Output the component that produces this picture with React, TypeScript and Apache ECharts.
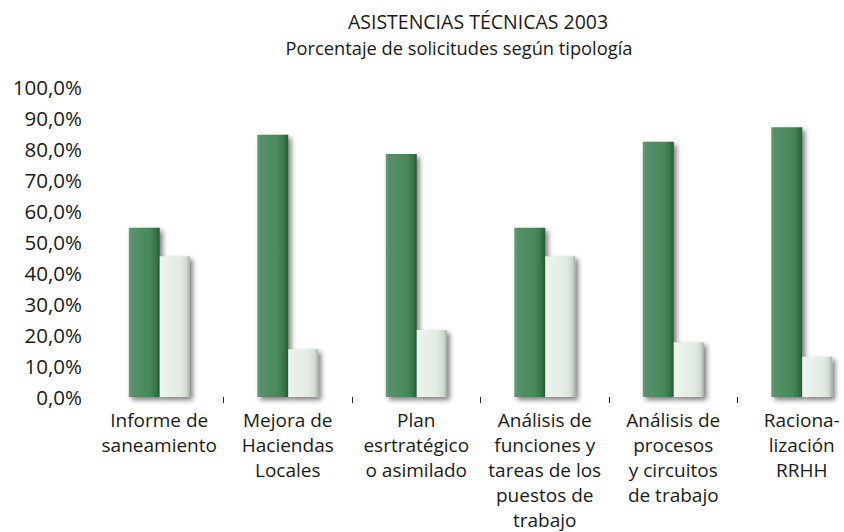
import React, { useEffect, useRef } from "react";
import * as echarts from "echarts";

const titleLine1 = "ASISTENCIAS TÉCNICAS 2003";
const titleLine2 = "Porcentaje de solicitudes según tipología";

const categories = [
  "Informe de\nsaneamiento",
  "Mejora de\nHaciendas\nLocales",
  "Plan\nesrtratégico\no asimilado",
  "Análisis de\nfunciones y\ntareas de los\npuestos de\ntrabajo",
  "Análisis de\nprocesos\ny circuitos\nde trabajo",
  "Raciona-\nlización\nRRHH",
];

const greenValues = [54.6, 84.6, 78.4, 54.6, 82.3, 87.0];
const lightValues = [45.4, 15.4, 21.6, 45.4, 17.7, 13.0];

const FONT = "'Open Sans', 'Noto Sans', sans-serif";

export default function App() {
  const ref = useRef<HTMLDivElement>(null);
  useEffect(() => {
    if (!ref.current) return;
    const chart = echarts.init(ref.current, undefined, { renderer: "svg" });
    const green = new echarts.graphic.LinearGradient(0, 0, 1, 0, [
      { offset: 0, color: "#6f9f7c" },
      { offset: 0.1, color: "#55906a" },
      { offset: 0.65, color: "#4b895b" },
      { offset: 0.85, color: "#3a784a" },
      { offset: 1, color: "#255c36" },
    ]);
    const light = new echarts.graphic.LinearGradient(0, 0, 1, 0, [
      { offset: 0, color: "#eef4ee" },
      { offset: 0.7, color: "#e2ebe2" },
      { offset: 0.9, color: "#cdd8ce" },
      { offset: 1, color: "#9faea1" },
    ]);
    const shadow = {
      shadowColor: "rgba(0,0,0,0.5)",
      shadowBlur: 5,
      shadowOffsetX: 3,
      shadowOffsetY: 3,
    };
    chart.setOption({
      animation: false,
      backgroundColor: "#ffffff",
      textStyle: { fontFamily: FONT },
      graphic: [
        {
          type: "text",
          x: 478,
          y: 21,
          style: {
            text: titleLine1,
            textAlign: "center",
            textVerticalAlign: "middle",
            fontSize: 19.5,
            fontFamily: FONT,
            fill: "#1a1a1a",
          },
        },
        {
          type: "text",
          x: 459,
          y: 47,
          style: {
            text: titleLine2,
            textAlign: "center",
            textVerticalAlign: "middle",
            fontSize: 18.3,
            fontFamily: FONT,
            fill: "#1a1a1a",
          },
        },
      ],
      grid: {
        left: 95,
        width: 771,
        top: 87,
        bottom: 135,
        containLabel: false,
        outerBoundsMode: "none",
      },
      xAxis: {
        type: "category",
        data: categories,
        boundaryGap: true,
        axisLine: { show: false },
        axisTick: {
          show: true,
          length: 6,
          interval: (index: number) => index !== 0,
          lineStyle: { color: "#333333", width: 1 },
        },
        axisLabel: {
          interval: 0,
          margin: 10,
          fontSize: 19,
          lineHeight: 25,
          color: "#1a1a1a",
          fontFamily: FONT,
          align: "center",
        },
      },
      yAxis: {
        type: "value",
        min: 0,
        max: 100,
        interval: 10,
        axisLine: { show: false },
        axisTick: { show: false },
        splitLine: { show: false },
        axisLabel: {
          margin: 13,
          fontSize: 20.5,
          color: "#1a1a1a",
          fontFamily: FONT,
          formatter: (v: number) => v.toFixed(1).replace(".", ",") + "%",
        },
      },
      series: [
        {
          name: "Serie 1",
          type: "bar",
          data: greenValues,
          barWidth: 31,
          barGap: "0%",
          itemStyle: { color: green, ...shadow },
        },
        {
          name: "Serie 2",
          type: "bar",
          data: lightValues,
          barWidth: 30,
          barGap: "0%",
          itemStyle: { color: light, ...shadow },
        },
      ],
    });
    return () => chart.dispose();
  }, []);
  return (
    <div
      ref={ref}
      style={{ position: "fixed", left: 0, top: 0, width: 844, height: 532, background: "#fff" }}
    />
  );
}
